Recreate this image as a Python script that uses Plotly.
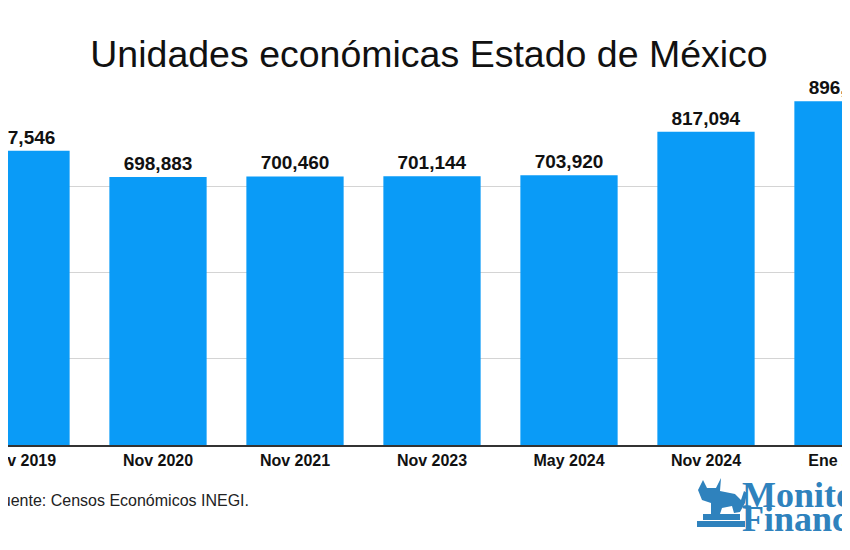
import plotly.graph_objects as go

categories = ["Nov 2019", "Nov 2020", "Nov 2021", "Nov 2023", "May 2024", "Nov 2024", "Ene 2025"]
values = [767546, 698883, 700460, 701144, 703920, 817094, 896958]

title_text = "Unidades económicas Estado de México"
source_text = "Fuente: Censos Económicos INEGI."

OFF = 8  # page body margin offset
W, H = 850 - OFF, 550 - OFF
PT, PB = 100 - OFF, 445 - OFF  # plot top / bottom in figure px


def px(x, y):
    """page pixel -> paper coords"""
    fxp = x - OFF
    fyp = y - OFF
    return fxp / W, (PB - fyp) / (PB - PT)


fig = go.Figure(
    go.Bar(
        x=categories,
        y=values,
        width=0.71,
        marker=dict(color="#0a9bf7", line=dict(width=0)),
        texttemplate="<b>%{y:,}</b>",
        textposition="outside",
        textfont=dict(family="Liberation Sans, Arial", size=19, color="#111111"),
        cliponaxis=False,
        hoverinfo="skip",
    )
)

fig.update_layout(
    width=W,
    height=H,
    margin=dict(l=0, r=0, t=PT, b=H - PB, pad=0, autoexpand=False),
    paper_bgcolor="white",
    plot_bgcolor="white",
    showlegend=False,
    font=dict(family="Liberation Sans, Arial", color="#111111"),
    title=dict(
        text=title_text,
        x=(429 - OFF) / W,
        xanchor="center",
        y=1 - (54 - OFF) / H,
        yanchor="middle",
        font=dict(family="Liberation Sans, Arial", size=37.5, color="#111111"),
    ),
    bargap=0.29,
)

# x range: category 0 centred at page x=21, spacing 137 px
x_left = (OFF - 21) / 137
x_right = 6 + (850 - 843) / 137
fig.update_xaxes(
    range=[x_left, x_right],
    autorange=False,
    automargin=False,
    showgrid=False,
    showline=True,
    linecolor="#333333",
    linewidth=1.5,
    ticks="",
    tickfont=dict(family="Liberation Sans, Arial", size=16, color="#111111", weight="bold"),
)
fig.update_yaxes(
    range=[0, 900000],
    autorange=False,
    automargin=False,
    dtick=225000,
    showticklabels=False,
    showgrid=True,
    gridcolor="#d4d4d4",
    gridwidth=1,
    zeroline=False,
)

# source note
sx, sy = px(251, 500)
fig.add_annotation(
    text=source_text, xref="paper", yref="paper", x=sx, y=sy,
    xanchor="right", yanchor="middle", showarrow=False,
    font=dict(family="Liberation Sans, Arial", size=16, color="#222222"),
)

# logo text
logo_color = "#2f82bd"
mx, my = px(740, 473)
fig.add_annotation(
    text="<b>Monitor</b>", xref="paper", yref="paper", x=mx, y=my,
    xanchor="left", yanchor="top", showarrow=False,
    font=dict(family="Liberation Serif, DejaVu Serif", size=36, color=logo_color),
)
fx, fy = px(740, 497)
fig.add_annotation(
    text="<b>Financiero</b>", xref="paper", yref="paper", x=fx, y=fy,
    xanchor="left", yanchor="top", showarrow=False,
    font=dict(family="Liberation Serif, DejaVu Serif", size=36, color=logo_color),
)

# simple bull icon
def path_from(points):
    parts = []
    for i, (x, y) in enumerate(points):
        a, b = px(x, y)
        parts.append(("M" if i == 0 else "L") + f"{a:.5f},{b:.5f}")
    return " ".join(parts) + " Z"


bull = [(698, 490), (703, 480), (707, 488), (716, 488), (721, 478), (720, 491),
        (735, 494), (741, 500), (744, 491), (747, 493), (745, 503), (740, 512),
        (734, 513), (732, 506), (722, 508), (720, 514), (711, 514), (711, 503), (702, 500)]
fig.add_shape(type="path", path=path_from(bull), xref="paper", yref="paper",
              fillcolor=logo_color, line=dict(width=0), layer="above")
for (x0, y0, x1, y1) in [(703, 514, 740, 520), (697, 521, 745, 527)]:
    a0, b0 = px(x0, y0)
    a1, b1 = px(x1, y1)
    fig.add_shape(type="rect", x0=a0, y0=b0, x1=a1, y1=b1, xref="paper", yref="paper",
                  fillcolor=logo_color, line=dict(width=0), layer="above")

fig.write_html("out.html")
